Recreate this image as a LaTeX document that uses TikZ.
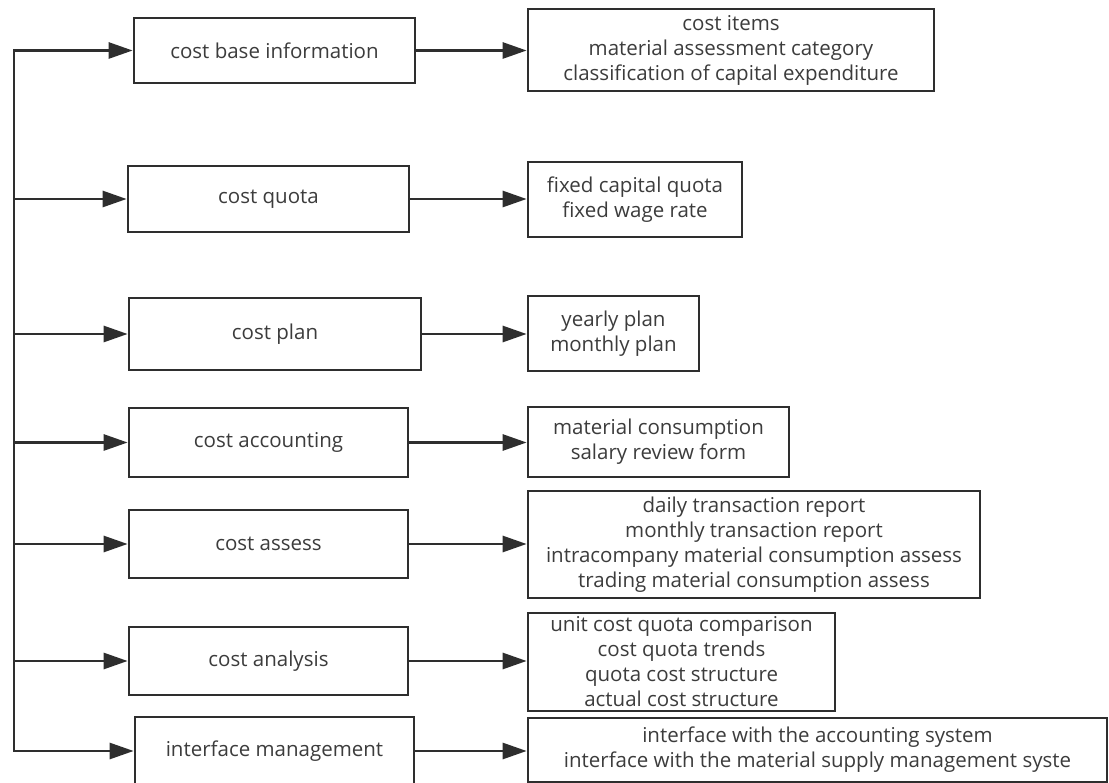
\documentclass[tikz,border=0pt]{standalone}
\usepackage{fontspec}
\setmainfont{Open Sans}
\usetikzlibrary{arrows.meta}
\definecolor{edgegray}{HTML}{2E2E2E}
\definecolor{textgray}{HTML}{3C3C3C}
\tikzset{
  box/.style={draw=edgegray, line width=2.7pt, inner sep=0pt, fill=white,
    text=textgray, align=center,
    font=\fontsize{20.5pt}{25pt}\selectfont},
  conn/.style={draw=edgegray, line width=2.7pt},
  arr/.style={conn, -{Triangle[length=24pt,width=16pt]}},
}
\begin{document}
\begin{tikzpicture}[x=1pt,y=-1pt]
\clip (0,0) rectangle (1109,783);
\fill[white] (0,0) rectangle (1109,783);
\coordinate (trunk) at (14,0);
% left boxes
\node[box, minimum width=281pt, minimum height=65pt] (b1) at (274.5,50.5) {cost base information};
\node[box, minimum width=281pt, minimum height=66pt] (b2) at (268.5,199) {cost quota};
\node[box, minimum width=292pt, minimum height=72pt] (b3) at (275,334) {cost plan};
\node[box, minimum width=279pt, minimum height=69pt] (b4) at (268.5,442.5) {cost accounting};
\node[box, minimum width=279pt, minimum height=68pt] (b5) at (268.5,544) {cost assess};
\node[box, minimum width=279pt, minimum height=68pt] (b6) at (268.5,661) {cost analysis};
\node[box, minimum width=279pt, minimum height=68pt] (b7) at (274.5,751) {interface management};
% right boxes
\node[box, minimum width=406pt, minimum height=82pt] (r1) at (731,50) {cost items\\material assessment category\\classification of capital expenditure};
\node[box, minimum width=214pt, minimum height=75pt] (r2) at (635,199.5) {fixed capital quota\\fixed wage rate};
\node[box, minimum width=171pt, minimum height=75pt] (r3) at (613.5,333.5) {yearly plan\\monthly plan};
\node[box, minimum width=261pt, minimum height=70pt] (r4) at (658.5,442) {material consumption\\salary review form};
\node[box, minimum width=452pt, minimum height=107pt] (r5) at (754,544.5) {daily transaction report\\monthly transaction report\\intracompany material consumption assess\\trading material consumption assess};
\node[box, minimum width=307pt, minimum height=98pt] (r6) at (681.5,662) {unit cost quota comparison\\cost quota trends\\quota cost structure\\actual cost structure};
\node[box, minimum width=579pt, minimum height=64pt] (r7) at (817.5,750) {interface with the accounting system\\interface with the material supply management syste};
% trunk
\draw[conn, line cap=rect] (trunk |- b1.west) -- (trunk |- b7.west);
\foreach \i in {1,...,7}{
  \draw[arr] (trunk |- b\i.west) -- (b\i.west);
  \draw[arr] (b\i.east) -- (b\i.east -| r\i.west);
}
\end{tikzpicture}
\end{document}
